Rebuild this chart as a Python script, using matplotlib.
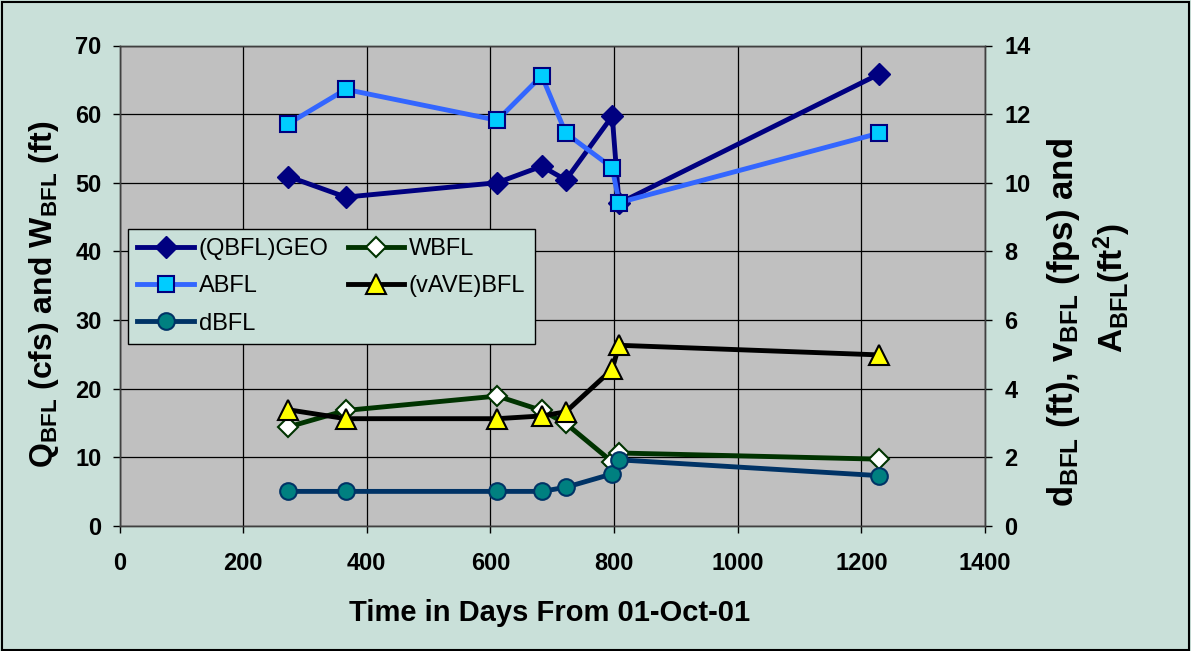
import matplotlib
matplotlib.use('Agg')
import matplotlib.pyplot as plt
from matplotlib.patches import Rectangle

# days from 01-Oct-01
days = [273, 366, 611, 683, 722, 797, 808, 1228]

# left axis (cfs / ft)
q_geo = [50.9, 47.9, 50.0, 52.4, 50.4, 59.7, 47.0, 65.8]
w_bfl = [14.4, 16.8, 18.9, 16.8, 14.9, 9.3, 10.6, 9.7]

# right axis (ft, fps, ft^2)
a_bfl = [11.72, 12.72, 11.82, 13.12, 11.44, 10.44, 9.42, 11.44]
v_ave = [3.38, 3.12, 3.12, 3.2, 3.32, 4.56, 5.26, 4.98]
d_bfl = [1.0, 1.0, 1.0, 1.0, 1.12, 1.51, 1.92, 1.46]

plt.rcParams['font.family'] = ['Liberation Sans', 'DejaVu Sans']
plt.rcParams['mathtext.fontset'] = 'custom'
plt.rcParams['mathtext.rm'] = 'Liberation Sans:bold'
plt.rcParams['mathtext.bf'] = 'Liberation Sans:bold'

W, H = 1191, 651
bg = '#C9E0D9'
fig = plt.figure(figsize=(W / 100, H / 100), dpi=100, facecolor=bg)
ax = fig.add_axes([119.5 / W, 1 - 525.7 / H, 865.5 / W, 480.2 / H])
ax.set_facecolor('#C0C0C0')
ax2 = ax.twinx()

fig.patches.append(Rectangle((0.002, 0.002), 0.996, 0.995, transform=fig.transFigure,
                             fill=False, edgecolor='black', linewidth=1.5))

lq, = ax.plot(days, q_geo, color='#000080', lw=3.5, marker='D', ms=11,
              mfc='#000080', mec='#000080', label='(QBFL)GEO')
lw, = ax.plot(days, w_bfl, color='#003300', lw=3.5, marker='D', ms=10,
              mfc='white', mec='#003300', mew=1.5, label='WBFL')
la, = ax2.plot(days, a_bfl, color='#3366FF', lw=3.5, marker='s', ms=12,
               mfc='#00CCFF', mec='#000080', mew=1.5, label='ABFL')
lv, = ax2.plot(days, v_ave, color='black', lw=3.5, marker='^', ms=15,
               mfc='#FFFF00', mec='black', mew=1.5, label='(vAVE)BFL')
ld, = ax2.plot(days, d_bfl, color='#003366', lw=3.5, marker='o', ms=12,
               mfc='#008080', mec='#003366', mew=1.5, label='dBFL')

ax.set_xlim(0, 1400)
ax.set_ylim(0, 70)
ax2.set_ylim(0, 14)
ax.set_xticks(range(0, 1401, 200))
ax.set_yticks(range(0, 71, 10))
ax2.set_yticks(range(0, 15, 2))
ax.grid(True, color='black', lw=0.9)
ax.set_axisbelow(True)

for a in (ax, ax2):
    a.tick_params(labelsize=17, length=5, width=1, direction='out')
    for lab in a.get_xticklabels() + a.get_yticklabels():
        lab.set_fontweight('bold')
    for s in a.spines.values():
        s.set_color('#404040')
        s.set_linewidth(1)
ax.tick_params(axis='y', pad=8)
ax.tick_params(axis='x', pad=14)
ax2.tick_params(axis='y', pad=9)

fig.text(550 / W, 1 - 613 / H, 'Time in Days From 01-Oct-01', fontsize=21,
         fontweight='bold', ha='center', va='center')
fig.text(44 / W, 1 - 294 / H,
         r'$\mathregular{Q_{BFL}}$ (cfs) and $\mathregular{W_{BFL}}$ (ft)',
         fontsize=23, fontweight='bold', rotation=90, ha='center', va='center')
fig.text(1063 / W, 1 - 323 / H,
         r'$\mathregular{d_{BFL}}$ (ft), $\mathregular{v_{BFL}}$ (fps) and',
         fontsize=25, fontweight='bold', rotation=90, ha='center', va='center')
fig.text(1112 / W, 1 - 288 / H, r'$\mathregular{A_{BFL}(ft^2)}$',
         fontsize=24, fontweight='bold', rotation=90, ha='center', va='center')

leg = ax.legend(handles=[lq, la, ld, lw, lv], ncol=2, loc='upper left',
                bbox_to_anchor=(0.0098, 0.618), fontsize=17, facecolor=bg,
                edgecolor='black', framealpha=1, fancybox=False,
                handlelength=2.4, columnspacing=0.8, borderpad=0.4,
                labelspacing=0.64, handletextpad=0.2, borderaxespad=0)
leg.get_frame().set_linewidth(1)

fig.savefig('out.png', dpi=100, facecolor=bg)
